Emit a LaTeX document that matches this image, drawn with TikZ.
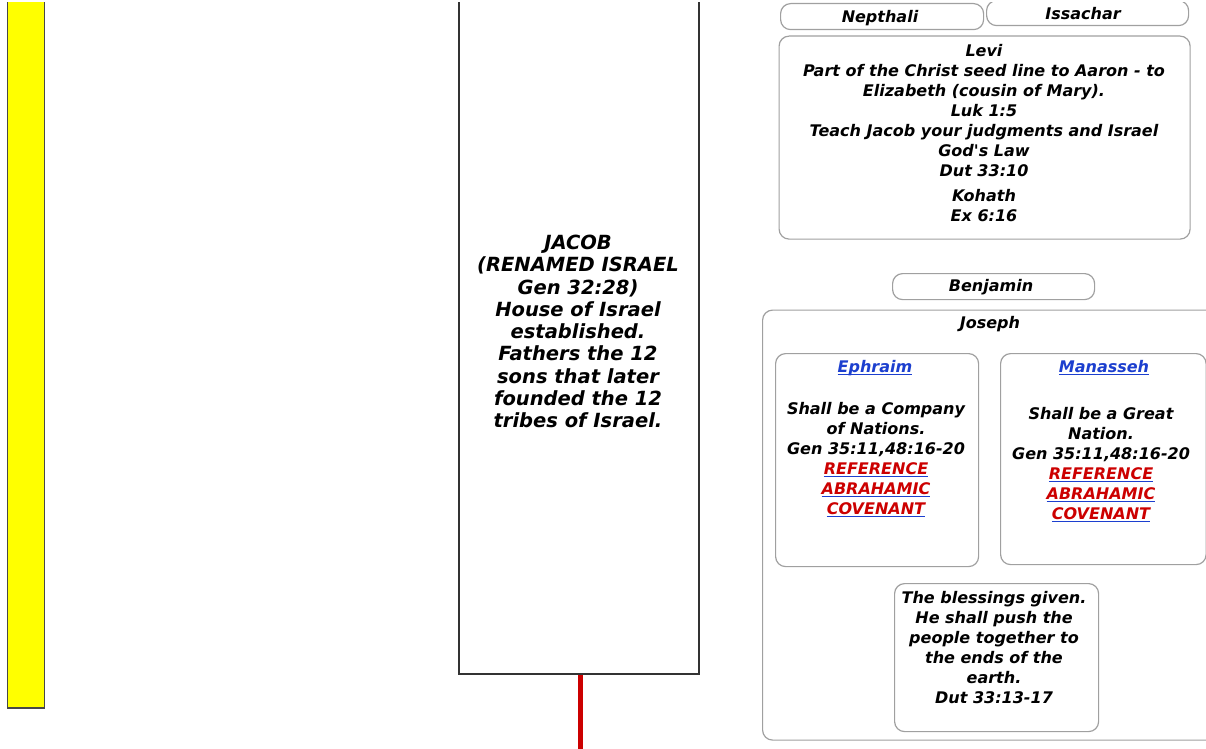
\documentclass[tikz,border=0pt]{standalone}
\usepackage{fontspec}
\setmainfont{DejaVu Sans}[Ligatures=TeXOff]
\usepackage{xcolor}
\definecolor{boxgray}{HTML}{A0A0A0}
\definecolor{linkblue}{HTML}{1C3FCF}
\definecolor{refred}{HTML}{CC0000}
\definecolor{barfill}{HTML}{FFFF00}
\definecolor{darkline}{HTML}{333333}
\newcommand\myul[2]{\leavevmode\setbox0\hbox{#2}\rlap{\textcolor{#1}{\rule[-2.6bp]{\wd0}{1.3bp}}}\box0}
\newcommand\lnk[1]{\myul{linkblue}{\textcolor{linkblue}{#1}}}
\newcommand\refl[1]{\myul{linkblue}{\textcolor{refred}{#1}}}
\tikzset{
  rbox/.style={draw=boxgray, line width=1.2bp, rounded corners=10bp, fill=white, inner sep=0pt, anchor=north west},
  sqbox/.style={draw=darkline, line width=1.8bp, fill=white, inner sep=0pt, anchor=north west},
  ybar/.style={draw=darkline!90, line width=1.6bp, fill=barfill, inner sep=0pt, anchor=north west},
  txt/.style={font=\fontsize{16bp}{20bp}\selectfont\bfseries\itshape, align=center, inner sep=0pt},
  bigtxt/.style={font=\fontsize{19.5bp}{22.3bp}\selectfont\bfseries\itshape, align=center, inner sep=0pt},
  redline/.style={draw=refred, line width=5bp}
}
\begin{document}
\begin{tikzpicture}[x=1bp,y=-1bp]
\fill[white] (0,0) rectangle (1206,749);
\useasboundingbox (0,0) rectangle (1206,749);
\begin{scope}
  \clip (0,3) rectangle (1206,749);
  % yellow bar
  \node[ybar, minimum width=37bp, minimum height=717bp] (yellow) at (6.5,-10) {};
  % Jacob box
  \node[sqbox, minimum width=240bp, minimum height=683bp] (jacob) at (458,-10) {};
  % top pills
  \node[rbox, minimum width=203bp, minimum height=26bp] (nepthali) at (780,3) {};
  \node[rbox, minimum width=202bp, minimum height=25bp] (issachar) at (986,0) {};
  % Levi
  \node[rbox, minimum width=411bp, minimum height=203bp] (levi) at (778.5,35.5) {};
  % Benjamin
  \node[rbox, minimum width=202bp, minimum height=26bp] (benjamin) at (892,273) {};
  % Joseph
  \node[rbox, minimum width=470bp, minimum height=430bp] (joseph) at (762,309.5) {};
  \node[rbox, minimum width=203bp, minimum height=213bp] (ephraim) at (775,353) {};
  \node[rbox, minimum width=205.5bp, minimum height=211bp] (manasseh) at (1000,353) {};
  \node[rbox, minimum width=204bp, minimum height=148bp] (blessing) at (894,583) {};
\end{scope}

% texts
\node[txt, anchor=base] (tnep) at (880,22.5) {Nepthali};
\node[txt, anchor=base] (tiss) at (1083,19.5) {Issachar};
\node[txt, anchor=north] (tlevi) at (984,44) {Levi\\
Part of the Christ seed line to Aaron - to\\
Elizabeth (cousin of Mary).\\
Luk 1:5\\
Teach Jacob your judgments and Israel\\
God's Law\\
Dut 33:10\\[5bp]
Kohath\\
Ex 6:16};
\node[txt, anchor=base] (tben) at (991,291.5) {Benjamin};
\node[txt, anchor=base] (tjos) at (990,328.5) {Joseph};
\node[txt, anchor=base] (teph) at (875,372.5) {\lnk{Ephraim}};
\node[txt, anchor=north] (tephb) at (876,402) {Shall be a Company\\
of Nations.\\
Gen 35:11,48:16-20\\
\refl{REFERENCE}\\
\refl{ABRAHAMIC}\\
\refl{COVENANT}};
\node[txt, anchor=base] (tman) at (1104,372.5) {\lnk{Manasseh}};
\node[txt, anchor=north] (tmanb) at (1101,407) {Shall be a Great\\
Nation.\\
Gen 35:11,48:16-20\\
\refl{REFERENCE}\\
\refl{ABRAHAMIC}\\
\refl{COVENANT}};
\node[txt, anchor=north] (tbless) at (994,591) {The blessings given.\\
He shall push the\\
people together to\\
the ends of the\\
earth.\\
Dut 33:13-17};
\node[bigtxt, anchor=north] (tjacob) at (578,234.8) {JACOB\\
(RENAMED ISRAEL\\
Gen 32:28)\\
House of Israel\\
established.\\
Fathers the 12\\
sons that later\\
founded the 12\\
tribes of Israel.};

% red connector
\coordinate (redend) at (580.5,749);
\draw[redline] (jacob.south -| redend) -- (redend);
\end{tikzpicture}
\end{document}
